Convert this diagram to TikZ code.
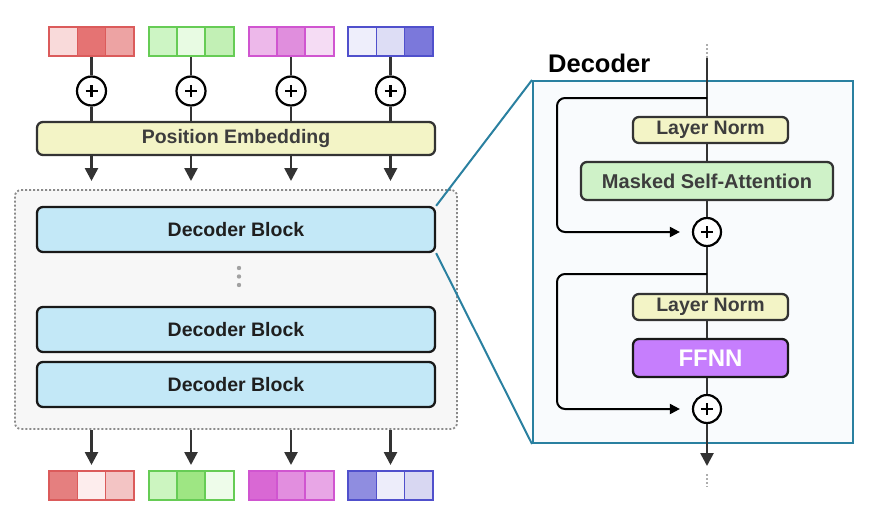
\documentclass[tikz,border=0pt]{standalone}
\usepackage{fontspec}
\setmainfont{Liberation Sans}
\usetikzlibrary{arrows.meta,calc}
\definecolor{dk}{HTML}{333333}
\definecolor{txt}{HTML}{3D3D3D}
\definecolor{peFill}{HTML}{F3F4C6}
\definecolor{dbFill}{HTML}{C3E8F7}
\definecolor{msaFill}{HTML}{CFF2C8}
\definecolor{ffFill}{HTML}{C67EFD}
\definecolor{teal}{HTML}{2A80A0}
\definecolor{panelBg}{HTML}{F9FBFD}
\definecolor{stackBg}{HTML}{F7F7F7}
\definecolor{dotGray}{HTML}{8A8A8A}
% token colours
\definecolor{rB}{HTML}{DB5B5B}\definecolor{gB}{HTML}{66CC55}\definecolor{mB}{HTML}{D055D0}\definecolor{bB}{HTML}{5050CC}
\definecolor{rA}{HTML}{F9DADA}\definecolor{rAA}{HTML}{E57373}\definecolor{rAAA}{HTML}{EDA3A3}
\definecolor{gA}{HTML}{CDF5C4}\definecolor{gAA}{HTML}{E8FBE3}\definecolor{gAAA}{HTML}{C2F0B5}
\definecolor{mA}{HTML}{EDB8EA}\definecolor{mAA}{HTML}{E08EDD}\definecolor{mAAA}{HTML}{F5DCF4}
\definecolor{bA}{HTML}{EEEEFB}\definecolor{bAA}{HTML}{DDDDF5}\definecolor{bAAA}{HTML}{7B78DB}
\definecolor{rC}{HTML}{E57F7F}\definecolor{rCC}{HTML}{FDEDED}\definecolor{rCCC}{HTML}{F3C4C4}
\definecolor{gC}{HTML}{CCF5C0}\definecolor{gCC}{HTML}{9EE683}\definecolor{gCCC}{HTML}{EEFCEA}
\definecolor{mC}{HTML}{D968D4}\definecolor{mCC}{HTML}{E28EDF}\definecolor{mCCC}{HTML}{E8A6E6}
\definecolor{bC}{HTML}{8F8DE0}\definecolor{bCC}{HTML}{EDEDFA}\definecolor{bCCC}{HTML}{D8D7F2}
\newcommand\tokrow[7]{%
  \node[cellbox,fill=#5,draw=#4] at ({#2-28.33},#3) {};
  \node[cellbox,fill=#6,draw=#4] at (#2,#3) {};
  \node[cellbox,fill=#7,draw=#4] at ({#2+28.33},#3) {};
  \node[tokbox,draw=#4] (#1) at (#2,#3) {};}
\begin{document}
\begin{tikzpicture}[x=1pt,y=-1pt,
  cellbox/.style={rectangle,minimum width=28.33pt,minimum height=29pt,inner sep=0pt,line width=1.4pt},
  tokbox/.style={rectangle,minimum width=85pt,minimum height=29pt,inner sep=0pt,line width=2pt},
  plusnode/.style={circle,draw=black,line width=2.2pt,fill=white,minimum size=#1,inner sep=0pt,
    path picture={\draw[line width=2.8pt] ([xshift=-6pt]path picture bounding box.center) -- ([xshift=6pt]path picture bounding box.center);
                  \draw[line width=2.8pt] ([yshift=-6pt]path picture bounding box.center) -- ([yshift=6pt]path picture bounding box.center);}},
  plusnode/.default=29pt,
  boxbase/.style={rectangle,rounded corners=6pt,line width=2.3pt,inner sep=0pt,font=\bfseries\fontsize{19.5}{22}\selectfont},
  conn/.style={draw=dk,line width=2.6pt},
  arr/.style={conn,-{Triangle[width=13pt,length=13pt]}},
  skiparr/.style={draw=black,line width=2pt,rounded corners=8pt,-{Triangle[width=10pt,length=10pt]},shorten >=12pt},
  dotline/.style={draw=dotGray!70,line width=1.6pt,dash pattern=on 1.6pt off 2.4pt}
]
\useasboundingbox (0,0) rectangle (870,506);

% stack background
\node[rectangle,rounded corners=6pt,fill=stackBg,draw=dotGray,line width=1.8pt,dash pattern=on 2pt off 2pt,
  minimum width=442pt,minimum height=239pt] (stack) at (236,309.5) {};

% top tokens
\tokrow{t1}{91.5}{41.5}{rB}{rA}{rAA}{rAAA}
\tokrow{t2}{191}{41.5}{gB}{gA}{gAA}{gAAA}
\tokrow{t3}{291}{41.5}{mB}{mA}{mAA}{mAAA}
\tokrow{t4}{390.5}{41.5}{bB}{bA}{bAA}{bAAA}

% plus nodes
\node[plusnode] (p1) at (91.5,91) {};
\node[plusnode] (p2) at (191,91) {};
\node[plusnode] (p3) at (291,91) {};
\node[plusnode] (p4) at (390.5,91) {};

% position embedding
\node[boxbase,fill=peFill,draw=dk,text=txt,minimum width=398pt,minimum height=33pt] (pe) at (236,138.5) {Position Embedding};

\foreach \i in {1,2,3,4}{
  \draw[conn] (t\i.south) -- (p\i.north);
  \draw[conn] (p\i.south) -- (pe.north -| p\i);
}
\coordinate (a1) at (91.5,181);
\coordinate (a2) at (191,181);
\coordinate (a3) at (291,181);
\coordinate (a4) at (390.5,181);
\foreach \i in {1,2,3,4}{
  \draw[arr] (pe.south -| p\i) -- (a\i);
}

% decoder blocks
\node[boxbase,fill=dbFill,draw=black!90,text=black!88,minimum width=398pt,minimum height=45pt] (db1) at (236,229.5) {Decoder Block};
\node[boxbase,fill=dbFill,draw=black!90,text=black!88,minimum width=398pt,minimum height=45pt] (db2) at (236,329.5) {Decoder Block};
\node[boxbase,fill=dbFill,draw=black!90,text=black!88,minimum width=398pt,minimum height=45pt] (db3) at (236,384.5) {Decoder Block};
\fill[dotGray!80] (239,268) circle (2.2pt) (239,276.5) circle (2.2pt) (239,285) circle (2.2pt);

% bottom arrows and tokens
\tokrow{b1}{91.5}{485.5}{rB}{rC}{rCC}{rCCC}
\tokrow{b2}{191}{485.5}{gB}{gC}{gCC}{gCCC}
\tokrow{b3}{291}{485.5}{mB}{mC}{mCC}{mCCC}
\tokrow{b4}{390.5}{485.5}{bB}{bC}{bCC}{bCCC}
\coordinate (c1) at (91.5,465);
\coordinate (c2) at (191,465);
\coordinate (c3) at (291,465);
\coordinate (c4) at (390.5,465);
\foreach \i in {1,2,3,4}{
  \draw[arr] (stack.south -| c\i) -- (c\i);
}

% right panel
\node[rectangle,draw=teal,line width=2pt,fill=panelBg,minimum width=320pt,minimum height=362pt] (panel) at (693,262) {};
\draw[teal,line width=2pt] (db1.north east) -- (panel.north west);
\draw[teal,line width=2pt] (db1.south east) -- (panel.south west);
\node[anchor=west,inner sep=0pt,font=\bfseries\fontsize{25.5}{28}\selectfont] (title) at (548,63) {Decoder};

\node[boxbase,fill=peFill,draw=dk,text=txt,minimum width=155pt,minimum height=26pt] (ln1) at (710.5,130) {Layer Norm};
\node[boxbase,fill=msaFill,draw=dk,text=txt,minimum width=252pt,minimum height=38pt,font=\bfseries\fontsize{20}{22}\selectfont] (msa) at (707,181) {Masked Self-Attention};
\node[plusnode=28pt] (q1) at (707,232) {};
\node[boxbase,fill=peFill,draw=dk,text=txt,minimum width=155pt,minimum height=26pt] (ln2) at (710.5,307) {Layer Norm};
\node[boxbase,fill=ffFill,draw=black!90,text=white,minimum width=155pt,minimum height=38pt,font=\bfseries\fontsize{24}{26}\selectfont] (ff) at (710.5,358) {FFNN};
\node[plusnode=28pt] (q2) at (707,409) {};

\coordinate (dtop) at (707,44);
\coordinate (top) at (707,58);
\coordinate (s1) at (707,98);
\coordinate (k1) at (557,98);
\coordinate (k2) at (557,232);
\coordinate (s2) at (707,274);
\coordinate (k3) at (557,274);
\coordinate (k4) at (557,409);
\coordinate (bot) at (707,466);
\coordinate (dbot) at (707,487);

\draw[dotline] (dtop) -- (top);
\draw[conn] (top) -- (ln1.north -| top);
\draw[conn] (ln1.south -| top) -- (msa.north);
\draw[conn] (msa.south) -- (q1.north);
\draw[conn] (q1.south) -- (ln2.north -| q1);
\draw[conn] (ln2.south -| q1) -- (ff.north -| q1);
\draw[conn] (ff.south -| q1) -- (q2.north);
\draw[arr] (q2.south) -- (bot);
\draw[dotline] ($(bot)+(0,8)$) -- (dbot);

\draw[skiparr] (s1) -- (k1) -- (k2) -- (q1.west);
\draw[skiparr] (s2) -- (k3) -- (k4) -- (q2.west);
\end{tikzpicture}
\end{document}
